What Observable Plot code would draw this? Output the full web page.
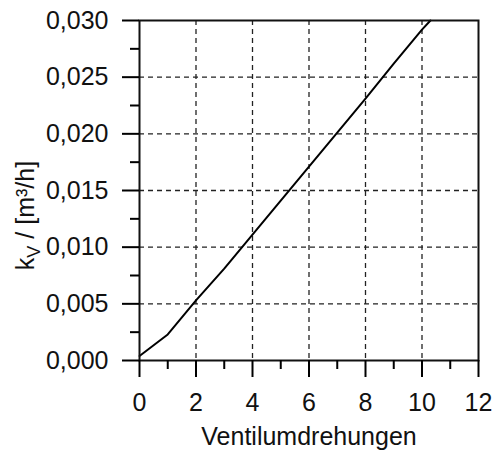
<!DOCTYPE html>
<html>
<head>
<meta charset="utf-8">
<script src="https://cdn.jsdelivr.net/npm/d3@7"></script>
<script src="https://cdn.jsdelivr.net/npm/@observablehq/plot@0.6"></script>
<style>
  html, body { margin: 0; padding: 0; background: #fff; }
</style>
</head>
<body>
<div id="chart"></div>
<script>
// Valve turns vs. flow coefficient kV
const turns = [0, 1, 2, 3, 4, 5, 6, 7, 8, 9, 10, 10.3];
const kv = [0.0004, 0.0023, 0.0053, 0.0081, 0.0111, 0.0141, 0.0171, 0.0201, 0.0231, 0.0262, 0.0292, 0.0300];

// Axis ticks
const xTicks = [0, 2, 4, 6, 8, 10, 12];
const xMinor = [1, 3, 5, 7, 9, 11];
const xGrid = [2, 4, 6, 8, 10];
const yTicks = [0, 0.005, 0.010, 0.015, 0.020, 0.025, 0.030];
const yMinor = [0.0025, 0.0075, 0.0125, 0.0175, 0.0225, 0.0275];
const yGrid = [0.005, 0.010, 0.015, 0.020, 0.025];

const xLabel = "Ventilumdrehungen";
const yLabel = "kV / [m³/h]";

const data = turns.map((t, i) => ({turns: t, kv: kv[i]}));
const fmtY = d => d3.format(".3f")(d).replace(".", ",");

const gridStyle = {stroke: "#222", strokeOpacity: 1, strokeWidth: 1.3, strokeDasharray: "5,4"};
const tickLine = {stroke: "#000", strokeWidth: 2};

// Outward tick marks: zero-length rules stretched outside the frame by negative insets
const xTickMarks = (ticks, len) => Plot.ruleX(ticks, {x: d => d, y1: 0, y2: 0, insetBottom: -len, ...tickLine});
const yTickMarks = (ticks, len) => Plot.ruleY(ticks, {y: d => d, x1: 0, x2: 0, insetLeft: -len, ...tickLine});

const chart = Plot.plot({
  width: 492,
  height: 450,
  marginLeft: 139,
  marginRight: 14,
  marginTop: 20,
  marginBottom: 90,
  x: {domain: [0, 12]},
  y: {domain: [0, 0.030]},
  style: {fontFamily: "'Liberation Sans', Arial, sans-serif", fontSize: "24px", color: "#111", background: "#fff"},
  marks: [
    Plot.gridX(xGrid, gridStyle),
    Plot.gridY(yGrid, gridStyle),
    Plot.line(data, {x: "turns", y: "kv", stroke: "#000", strokeWidth: 2}),
    Plot.frame({stroke: "#111", strokeWidth: 2}),
    xTickMarks(xTicks, 17),
    xTickMarks(xMinor, 9),
    yTickMarks(yTicks, 17),
    yTickMarks(yMinor, 9),
    Plot.axisX(xTicks, {tickSize: 0, tickPadding: 33, fontSize: 25, fill: "#111", label: null}),
    Plot.axisY(yTicks, {tickSize: 0, tickPadding: 31, tickFormat: fmtY, fontSize: 25, fill: "#111", label: null}),
    Plot.text([xLabel], {frameAnchor: "bottom", textAnchor: "middle", lineAnchor: "middle", dy: 76, fontSize: 25, fill: "#111"}),
    Plot.text([yLabel], {frameAnchor: "left", textAnchor: "middle", lineAnchor: "middle", rotate: -90, dx: -114, dy: 25, fontSize: 25, fill: "#111"})
  ]
});

// Give the kV label its subscript
chart.querySelectorAll("text").forEach(t => {
  if (t.textContent === yLabel) {
    t.textContent = "";
    const k = document.createElementNS("http://www.w3.org/2000/svg", "tspan");
    k.textContent = "k";
    const sub = document.createElementNS("http://www.w3.org/2000/svg", "tspan");
    sub.textContent = "V";
    sub.setAttribute("font-size", "18");
    sub.setAttribute("dy", "6");
    const rest = document.createElementNS("http://www.w3.org/2000/svg", "tspan");
    rest.textContent = " / [m³/h]";
    rest.setAttribute("dy", "-6");
    t.append(k, sub, rest);
  }
});

document.getElementById("chart").append(chart);
</script>
</body>
</html>
